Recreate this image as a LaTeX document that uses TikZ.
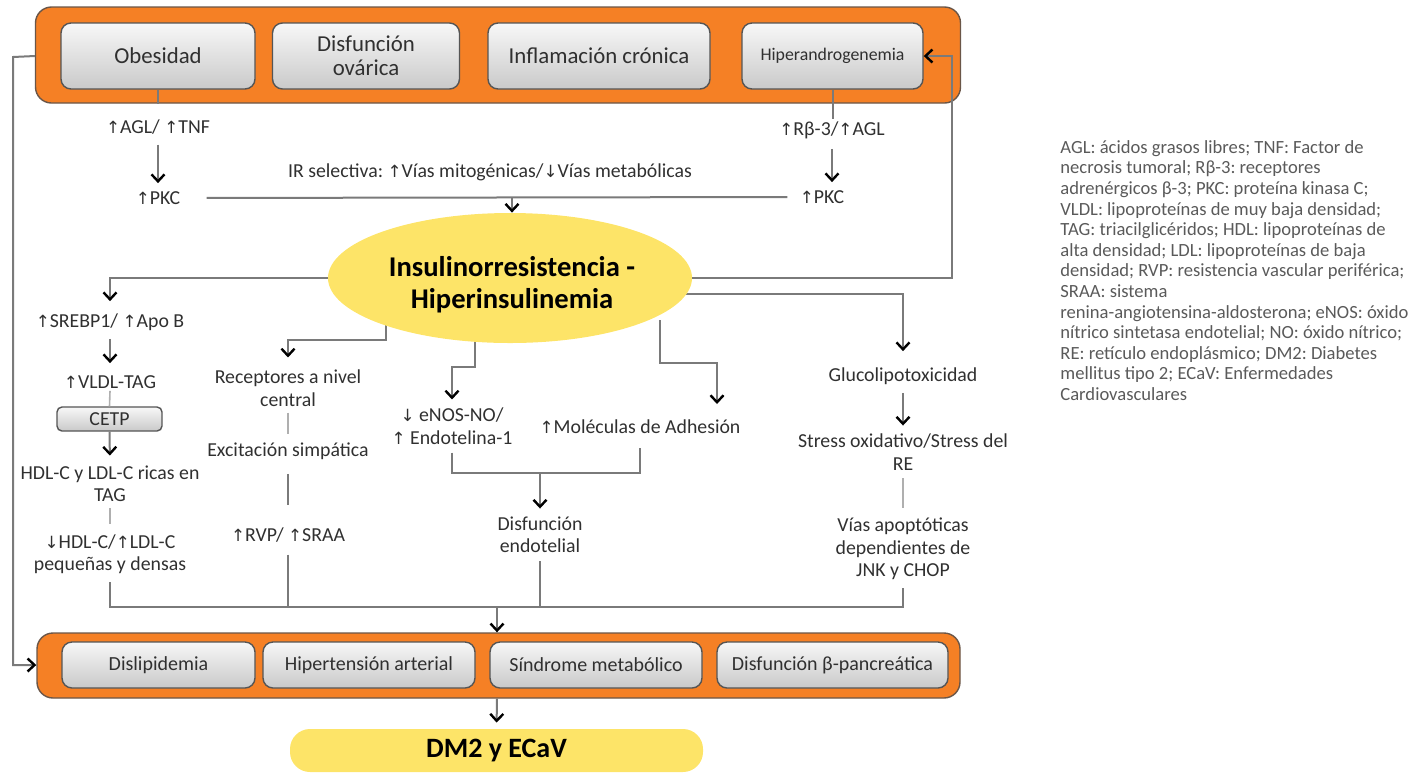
\documentclass[tikz,border=0pt]{standalone}
\usepackage{fontspec}
\setmainfont{Carlito}
\newfontfamily\arrfont{DejaVu Sans}
\usetikzlibrary{arrows.meta,shapes.geometric}
\pgfdeclarelayer{bg}
\pgfsetlayers{bg,main}
\frenchspacing
\newcommand\myup{{\arrfont\scalebox{0.85}{↑}}}
\newcommand\mydn{{\arrfont\scalebox{0.85}{↓}}}
\definecolor{orng}{HTML}{F58025}
\definecolor{obord}{HTML}{6A5648}
\definecolor{gbord}{HTML}{555555}
\definecolor{lncol}{HTML}{7A7A7A}
\definecolor{txt}{HTML}{303030}
\definecolor{yel}{HTML}{FDE468}
\definecolor{legc}{HTML}{5A5A5A}
\begin{document}
\begin{tikzpicture}[x=0.5pt,y=-0.5pt,
  orangebox/.style={draw=obord, line width=0.7pt, fill=orng, rounded corners=8pt, inner sep=0pt},
  graybox/.style={draw=gbord, line width=0.7pt, rounded corners=5pt, top color=gray!6, bottom color=gray!42, text=txt, align=center, inner sep=0pt, font=\fontsize{11.4}{12}\selectfont},
  lbl/.style={text=txt, align=center, inner sep=1pt, font=\fontsize{9.9}{11.2}\selectfont},
  ln/.style={draw=lncol, line width=1pt},
  lnl/.style={draw=lncol!60, line width=0.8pt},
  arr/.style={ln, -{Straight Barb[length=3.5pt,width=6.5pt,line width=1.2pt,color=black]}}
]
\useasboundingbox (0,0) rectangle (1424,773);
% ---- top box
\node[orangebox, minimum width=462.5pt, minimum height=48pt] (top) at (498,55) {};
\node[graybox, minimum width=97pt, minimum height=33pt] (obe) at (158,56) {Obesidad};
\node[graybox, minimum width=93.5pt, minimum height=33pt] (dov) at (366,56) {Disfunción\\ovárica};
\node[graybox, minimum width=111pt, minimum height=33pt] (inf) at (599,56) {Inflamación crónica};
\node[graybox, minimum width=90.5pt, minimum height=33pt, font=\fontsize{8.9}{10}\selectfont] (hip) at (832.5,56) {Hiperandrogenemia};
% ---- bottom box
\node[orangebox, minimum width=461.5pt, minimum height=32.5pt] (bot) at (498.5,665.5) {};
\node[graybox, minimum width=96.5pt, minimum height=23pt, font=\fontsize{10}{11}\selectfont] (dis) at (158.5,665) {Dislipidemia};
\node[graybox, minimum width=106pt, minimum height=23pt, font=\fontsize{10}{11}\selectfont] (hta) at (369,665) {Hipertensión arterial};
\node[graybox, minimum width=106pt, minimum height=23pt, font=\fontsize{10}{11}\selectfont] (sme) at (596,665) {Síndrome metabólico};
\node[graybox, minimum width=115.5pt, minimum height=23pt, font=\fontsize{10}{11}\selectfont] (dbp) at (832.5,665) {Disfunción β-pancreática};
% ---- DM2
\node[fill=yel, rounded corners=10pt, minimum width=206.5pt, minimum height=21.5pt, inner sep=0pt, font=\bfseries\fontsize{14}{16}\selectfont] (dm2) at (496.5,750.5) {DM2 y ECaV};
% ---- ellipse
\node[ellipse, fill=yel, minimum width=182pt, minimum height=65pt, inner sep=0pt] (ins) at (510,278) {};
\node[align=center, inner sep=0pt, font=\bfseries\fontsize{14.3}{16}\selectfont] (instx) at (512,285) {Insulinorresistencia -\\Hiperinsulinemia};
% ---- labels
\node[lbl] (agl) at (158,127) {\myup AGL/ \myup TNF};
\node[lbl] (pkcl) at (158,198) {\myup PKC};
\node[lbl] (rb) at (832,130) {\myup Rβ-3/\myup AGL};
\node[lbl] (pkcr) at (822,197) {\myup PKC};
\node[lbl] (irs) at (490,172) {IR selectiva: \myup Vías mitogénicas/\mydn Vías metabólicas};
\node[lbl] (srebp) at (110,322) {\myup SREBP1/ \myup Apo B};
\node[lbl] (vldl) at (110,382) {\myup VLDL-TAG};
\node[graybox, minimum width=52.5pt, minimum height=12pt, rounded corners=2.5pt, font=\fontsize{9.9}{10}\selectfont] (cetp) at (109.5,419) {CETP};
\node[lbl] (hdlc) at (110,484) {HDL-C y LDL-C ricas en\\TAG};
\node[lbl] (hdl2) at (110,554) {\mydn HDL-C/\myup LDL-C\\pequeñas y densas};
\node[lbl] (recep) at (288,388) {Receptores a nivel\\central};
\node[lbl] (excit) at (288,451) {Excitación simpática};
\node[lbl] (rvp) at (288,535) {\myup RVP/ \myup SRAA};
\node[lbl] (enos) at (452,426) {\mydn\ eNOS-NO/\\\myup\ Endotelina-1};
\node[lbl] (molec) at (640,427) {\myup Moléculas de Adhesión};
\node[lbl] (disend) at (540,535) {Disfunción\\endotelial};
\node[lbl] (gluco) at (903,376) {Glucolipotoxicidad};
\node[lbl] (stress) at (903,452) {Stress oxidativo/Stress del\\RE};
\node[lbl] (vias) at (903,549) {Vías apoptóticas\\dependientes de\\JNK y CHOP};
% ---- legend
\node[anchor=north west, align=left, inner sep=0pt, text=legc, font=\fontsize{9.3}{10.3}\selectfont] (leg) at (1060,140) {AGL: ácidos grasos libres; TNF: Factor de\\necrosis tumoral; Rβ-3: receptores\\adrenérgicos β-3; PKC: proteína kinasa C;\\VLDL: lipoproteínas de muy baja densidad;\\TAG: triacilglicéridos; HDL: lipoproteínas de\\alta densidad; LDL: lipoproteínas de baja\\densidad; RVP: resistencia vascular periférica;\\SRAA: sistema\\renina-angiotensina-aldosterona; eNOS: óxido\\nítrico sintetasa endotelial; NO: óxido nítrico;\\RE: retículo endoplásmico; DM2: Diabetes\\mellitus tipo 2; ECaV: Enfermedades\\Cardiovasculares};
% ---- coordinates
\coordinate (lf) at (13,57);
\coordinate (rf) at (952,278);
\coordinate (irj) at (512,197);
\coordinate (b2) at (386,320);
\coordinate (b3) at (475,330);
\coordinate (b4) at (660,320);
\coordinate (b5) at (680,294);
\coordinate (mt) at (717,404);
\coordinate (mg) at (540,473);
\coordinate (bus) at (497,607);
% branches from inside the ellipse (hidden beneath it)
\begin{pgfonlayer}{bg}
\draw[arr, shorten >=5pt] (b2) -- ++(0,20) -| (recep.north);
\draw[arr, shorten >=3pt] (b3) -- ++(0,37) -| (enos.north);
\draw[arr] (b4) -- ++(0,43) -| (mt);
\draw[arr, shorten >=7pt] (b5) -| (gluco.north);
\end{pgfonlayer}
% top connectors
\draw[ln] (obe.south) -- (obe.south |- top.south);
\draw[arr, shorten <=4pt, shorten >=3pt] (agl.south) -- (pkcl.north);
\draw[ln] (hip.south) -- (hip.south |- rb.north);
\draw[arr, shorten <=4pt, shorten >=3pt] (rb.south) -- (rb.south |- pkcr.north);
\draw[ln, shorten <=12pt, shorten >=5pt] (pkcl.east) -- (pkcr.west);
\draw[arr] (irj) -- (irj |- ins.north);
% feedback
\draw[arr] (obe.west -| top.west) -- (lf) |- (dis.west -| bot.west);
\draw[arr] (ins.east) -- (rf) |- (hip.east);
% left column
\draw[arr, shorten >=5pt] (ins.west) -| (srebp.north);
\draw[arr, shorten <=3pt, shorten >=5pt] (srebp.south) -- (vldl.north);
\draw[lnl] (vldl.south) -- (cetp.north);
\draw[arr, shorten >=4pt] (cetp.south) -- (hdlc.north);
\draw[lnl, shorten <=2pt, shorten >=4pt] (hdlc.south) -- (hdl2.north);
\draw[ln, shorten <=3pt] (hdl2.south) |- (bus);
% receptores column
\draw[lnl, shorten <=2pt, shorten >=3pt] (recep.south) -- (excit.north);
\draw[ln, shorten <=6pt, shorten >=10pt] (excit.south) -- (rvp.north);
\draw[ln, shorten <=5pt] (rvp.south) -- (rvp.south |- bus);
% endothelial
\draw[ln, shorten <=3pt] (enos.south) |- (mg);
\draw[ln, shorten <=6pt] (molec.south) |- (mg);
\draw[arr, shorten >=3pt] (mg) -- (disend.north);
\draw[ln, shorten <=3pt] (disend.south) -- (disend.south |- bus);
% gluco column
\draw[arr, shorten <=3pt, shorten >=3pt] (gluco.south) -- (stress.north);
\draw[lnl, shorten <=3pt, shorten >=4pt] (stress.south) -- (vias.north);
\draw[ln, shorten <=3pt] (vias.south) |- (bus);
% to bottom
\draw[arr] (bus) -- (bus |- bot.north);
\draw[arr, shorten >=3pt] (bus |- bot.south) -- (dm2.north);
\end{tikzpicture}
\end{document}
